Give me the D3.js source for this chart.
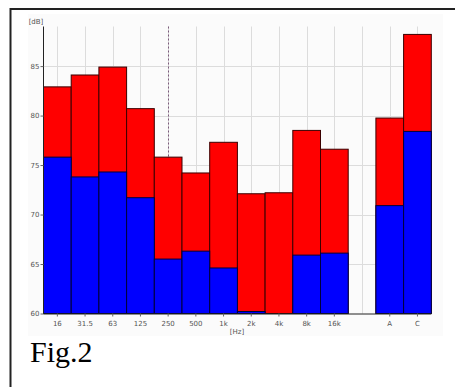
<!DOCTYPE html>
<html>
<head>
<meta charset="utf-8">
<script src="https://cdn.jsdelivr.net/npm/d3@7"></script>
<style>
  body { margin: 0; background: #fff; position: relative; }
  svg { display: block; }
  .caption { position: absolute; left: 30px; top: 335px; font: 30px "Liberation Serif", serif; color: #000; line-height: 34px; }
</style>
</head>
<body>
<script>
// Width and height of the page
var w = 455;
var h = 387;

// Data
var bands = ["16", "31.5", "63", "125", "250", "500", "1k", "2k", "4k", "8k", "16k", "gap", "A", "C"];
var redValues = [82.9, 84.1, 84.9, 80.7, 75.8, 74.2, 77.3, 72.1, 72.2, 78.5, 76.6, 60, 79.75, 88.2];
var blueValues = [75.8, 73.8, 74.3, 71.7, 65.5, 66.3, 64.6, 60.2, 60, 65.9, 66.1, 60, 70.9, 78.4];
var yTicks = [60, 65, 70, 75, 80, 85];
var markerBand = "250";

var smallFont = "DejaVu Sans";

var svg = d3.select("body")
  .append("svg")
  .attr("width", w)
  .attr("height", h);

// frame lines (top and left)
svg.append("line").attr("x1", 10).attr("y1", 9).attr("x2", w).attr("y2", 9)
  .attr("stroke", "#222").attr("stroke-width", 2);
svg.append("line").attr("x1", 10.5).attr("y1", 8).attr("x2", 10.5).attr("y2", h)
  .attr("stroke", "#222").attr("stroke-width", 2);

// faint plot background
svg.append("rect").attr("x", 28).attr("y", 14).attr("width", 415).attr("height", 322)
  .attr("fill", "#fbfbfb");

var x = d3.scaleBand()
  .domain(bands)
  .range([43.5, 431.3])
  .padding(0);

var y = d3.scaleLinear()
  .domain([60, 89])
  .range([313.5, 26.5]);

var grid = svg.append("g").attr("class", "grid");

// horizontal gridlines
grid.selectAll("line.h")
  .data(yTicks.filter(function(d) { return d > 60; }))
  .enter().append("line")
  .attr("x1", 43.5).attr("x2", 431.3)
  .attr("y1", function(d) { return Math.round(y(d)) + 0.5; })
  .attr("y2", function(d) { return Math.round(y(d)) + 0.5; })
  .attr("stroke", "#dcdcdc");

// vertical gridlines at band centres
grid.selectAll("line.v")
  .data(bands)
  .enter().append("line")
  .attr("x1", function(d) { return Math.round(x(d) + x.bandwidth() / 2) + 0.5; })
  .attr("x2", function(d) { return Math.round(x(d) + x.bandwidth() / 2) + 0.5; })
  .attr("y1", y(89)).attr("y2", y(60))
  .attr("stroke", "#dcdcdc");

// dashed marker line
svg.append("line")
  .attr("x1", Math.round(x(markerBand) + x.bandwidth() / 2) + 0.5)
  .attr("x2", Math.round(x(markerBand) + x.bandwidth() / 2) + 0.5)
  .attr("y1", y(89)).attr("y2", y(60))
  .attr("stroke", "#7a5a7a")
  .attr("stroke-dasharray", "2,2");

// bars: red behind, blue in front
var barsGroup = svg.append("g").attr("class", "bars");

barsGroup.selectAll("rect.red")
  .data(bands)
  .enter().append("rect")
  .attr("x", function(d) { return x(d); })
  .attr("y", function(d, i) { return y(redValues[i]); })
  .attr("width", x.bandwidth())
  .attr("height", function(d, i) { return y(60) - y(redValues[i]); })
  .attr("fill", function(d) { return d === "gap" ? "none" : "#ff0000"; })
  .attr("stroke", function(d) { return d === "gap" ? "#999" : "#3a0000"; })
  .attr("stroke-width", 1);

barsGroup.selectAll("rect.blue")
  .data(bands)
  .enter().append("rect")
  .attr("x", function(d) { return x(d); })
  .attr("y", function(d, i) { return y(blueValues[i]); })
  .attr("width", x.bandwidth())
  .attr("height", function(d, i) { return y(60) - y(blueValues[i]); })
  .attr("fill", function(d) { return d === "gap" ? "none" : "#0000ff"; })
  .attr("stroke", function(d, i) { return (d === "gap" || blueValues[i] <= 60) ? "none" : "#00003a"; })
  .attr("stroke-width", 1);

// axes
var yAxis = d3.axisLeft(y)
  .tickValues(yTicks)
  .tickSize(3)
  .tickFormat(d3.format("d"));

var yG = svg.append("g")
  .attr("transform", "translate(43.5,0)")
  .call(yAxis);
yG.attr("font-family", smallFont).attr("font-size", 7);
yG.select(".domain").attr("stroke", "#222").attr("d", "M0," + y(89) + "V" + y(60));
yG.selectAll(".tick line").attr("stroke", "#666");
yG.selectAll(".tick text")
  .attr("x", -4)
  .attr("fill", "#555");

var xAxis = d3.axisBottom(x)
  .tickSize(3)
  .tickFormat(function(d) { return d === "gap" ? "" : d; });

var xG = svg.append("g")
  .attr("transform", "translate(0," + y(60) + ")")
  .call(xAxis);
xG.attr("font-family", smallFont).attr("font-size", 7);
xG.select(".domain").attr("stroke", "#222").attr("d", "M43.5,0.5H431.3");
xG.selectAll(".tick line").attr("stroke", "#666")
  .attr("display", function(d) { return d === "gap" ? "none" : null; });
xG.selectAll(".tick text")
  .attr("y", 8)
  .attr("fill", "#555");

// axis titles
svg.append("text")
  .attr("font-family", smallFont).attr("font-size", 7)
  .attr("x", 36).attr("y", 24)
  .attr("text-anchor", "middle")
  .attr("fill", "#555")
  .text("[dB]");

svg.append("text")
  .attr("font-family", smallFont).attr("font-size", 7)
  .attr("x", 237).attr("y", 334)
  .attr("text-anchor", "middle")
  .attr("fill", "#555")
  .text("[Hz]");

// caption as html text under the chart
d3.select("body").append("div")
  .attr("class", "caption")
  .text("Fig.2");
</script>
</body>
</html>
